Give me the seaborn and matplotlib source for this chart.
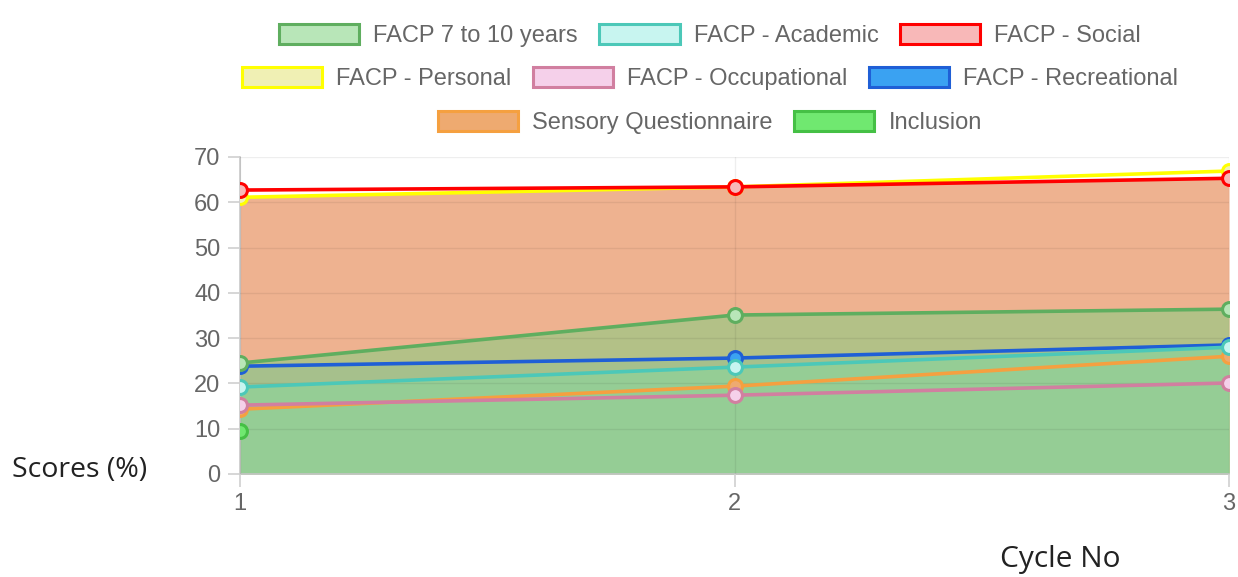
import numpy as np
import pandas as pd
import seaborn as sns
import matplotlib.pyplot as plt
from matplotlib.patches import Patch

# values
cycles = [1, 2, 3]
facp_7_10 = [24.5, 35.1, 36.4]
facp_academic = [19.2, 23.6, 28.0]
facp_social = [62.7, 63.4, 65.3]
facp_personal = [61.1, 63.4, 66.9]
facp_occupational = [15.2, 17.4, 20.1]
facp_recreational = [23.8, 25.6, 28.5]
sensory = [14.3, 19.4, 26.0]
inclusion = [9.5, np.nan, np.nan]

names = ['FACP 7 to 10 years', 'FACP - Academic', 'FACP - Social',
         'FACP - Personal', 'FACP - Occupational', 'FACP - Recreational',
         'Sensory Questionnaire', 'Inclusion']
series = [facp_7_10, facp_academic, facp_social, facp_personal,
          facp_occupational, facp_recreational, sensory, inclusion]
edge_cols = ['#5fae5f', '#4cc8b8', '#ff0000', '#ffff00',
             '#d17fa0', '#1f5fd6', '#f5a040', '#45c045']
face_cols = ['#b8e6b8', '#c8f5f0', '#f8b8b8', '#f0f0b4',
             '#f5d0ea', '#3aa2f2', '#eeaa70', '#70e870']

df = pd.DataFrame({'cycle': cycles})
for n, s in zip(names, series):
    df[n] = s

sns.set_theme(style='white')
plt.rcParams['font.family'] = ['Liberation Sans', 'DejaVu Sans']

fig = plt.figure(figsize=(12.38, 5.77), dpi=100)
ax = fig.add_axes([240/1238, 103/577, 989/1238, 317/577])

# area fills
top = np.minimum(df['FACP - Personal'], df['FACP - Social'])
ax.fill_between(df['cycle'], 0, top, color='#eeb290', lw=0, zorder=1)
ax.fill_between(df['cycle'], 0, df['FACP 7 to 10 years'], color='#b3c187', lw=0, zorder=1)
ax.fill_between(df['cycle'], 0, df['FACP - Recreational'], color='#a6c08c', lw=0, zorder=1)
ax.fill_between(df['cycle'], 0, df['FACP - Academic'], color='#95cd95', lw=0, zorder=1)

# lines (first dataset on top, like chart.js)
for i in reversed(range(len(names))):
    sns.lineplot(data=df, x='cycle', y=names[i], ax=ax, color=edge_cols[i],
                 lw=2.6, marker='o', markersize=10, markeredgewidth=2.2,
                 markeredgecolor=edge_cols[i], markerfacecolor=face_cols[i],
                 zorder=3 + (len(names) - i))

ax.set_xlim(1, 3)
ax.set_ylim(0, 70)
ax.set_xticks(cycles)
ax.set_yticks(range(0, 71, 10))
ax.grid(True, color='black', alpha=0.065, lw=1, zorder=2)
ax.set_axisbelow(False)
for sp in ['top', 'right']:
    ax.spines[sp].set_visible(False)
for sp in ['left', 'bottom']:
    ax.spines[sp].set_color('#c8c8c8')
    ax.spines[sp].set_linewidth(1.2)
ax.tick_params(axis='both', bottom=True, left=True, labelcolor='#666666',
               color='#cfcfcf', labelsize=17, length=9, width=1.2,
               direction='out', pad=5)
ax.set_xlabel('')
ax.set_ylabel('')

# legend rows
rows = [[0, 1, 2], [3, 4, 5], [6, 7]]
row_y = [1 - 24/577, 1 - 67/577, 1 - 111/577]
for r, y in zip(rows, row_y):
    handles = [Patch(facecolor=face_cols[i], edgecolor=edge_cols[i], lw=2.2) for i in r]
    leg = fig.legend(handles, [names[i] for i in r], loc='upper center',
                     bbox_to_anchor=(710/1238, y), ncol=len(r), frameon=False,
                     fontsize=17, handlelength=3.4, handleheight=0.95,
                     handletextpad=0.6, columnspacing=0.9, borderpad=0, borderaxespad=0)
    for t in leg.get_texts():
        t.set_color('#666666')

fig.text(12/1238, 107/577, 'Scores (%)', fontsize=20.5, color='#222222',
         family=['Open Sans', 'DejaVu Sans'], va='center', ha='left')
fig.text(1000/1238, 17/577, 'Cycle No', fontsize=21.5, color='#222222',
         family=['Open Sans', 'DejaVu Sans'], va='center', ha='left')

fig.savefig('out.png', dpi=100)
